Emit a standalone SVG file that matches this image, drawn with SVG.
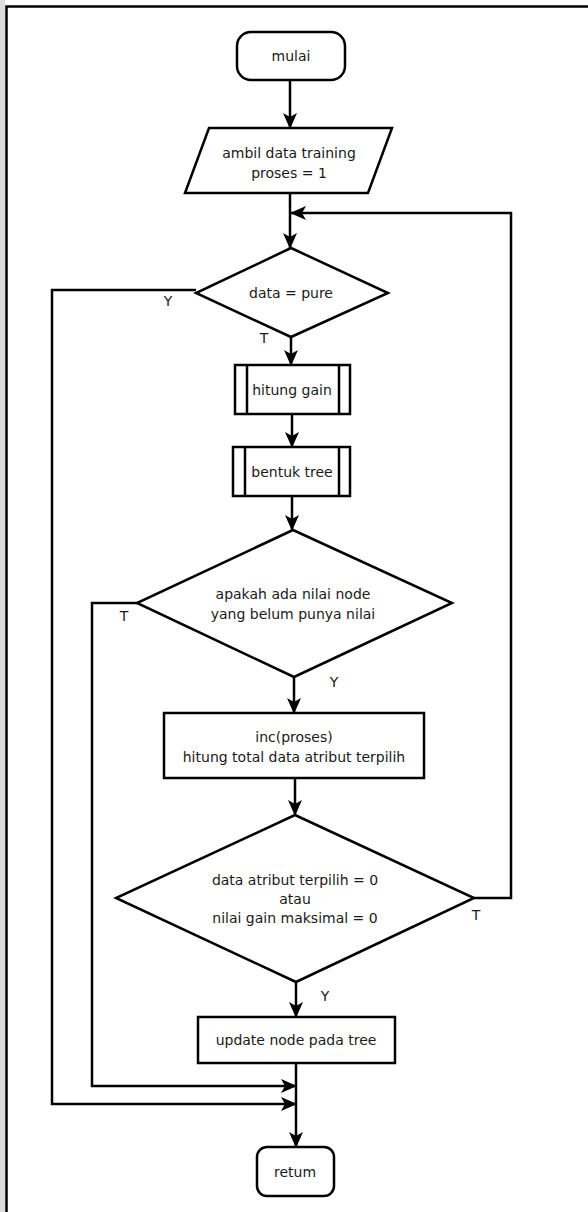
<svg xmlns="http://www.w3.org/2000/svg" width="588" height="1212" viewBox="0 0 588 1212">
  <style>
    .shape { fill: #ffffff; stroke: #000000; stroke-width: 2.5; }
    .inner { fill: none; stroke: #000000; stroke-width: 2.5; }
    .edge { fill: none; stroke: #000000; stroke-width: 2.5; }
    .lbl { font-family: "DejaVu Sans", Verdana, sans-serif; font-size: 14px; fill: #1a1a1a; text-anchor: middle; dominant-baseline: central; }
    .mark { font-family: "DejaVu Sans", Verdana, sans-serif; font-size: 14px; fill: #1a1a1a; text-anchor: middle; dominant-baseline: central; }
  </style>
  <defs>
    <marker id="arrow" markerUnits="userSpaceOnUse" markerWidth="16" markerHeight="16" viewBox="0 0 16 14" refX="15" refY="7" orient="auto">
      <path d="M0,0 L16,7 L0,14 L4,7 z" fill="#000000"/>
    </marker>
  </defs>

  <!-- page background and frame -->
  <rect x="0" y="0" width="588" height="1212" fill="#ffffff"/>
  <rect x="0" y="0" width="5" height="1212" fill="#dedede"/>
  <path d="M6.5,1212 V6.5 H588" fill="none" stroke="#000000" stroke-width="2.5"/>

  <!-- connectors -->
  <g id="connectors">
    <path class="edge" d="M290,80 V128" marker-end="url(#arrow)"/>
    <path class="edge" d="M290,193 V248" marker-end="url(#arrow)"/>
    <path class="edge" d="M474,898 H511 V213 H291" marker-end="url(#arrow)"/>
    <path class="edge" d="M291,337 V365" marker-end="url(#arrow)"/>
    <path class="edge" d="M292,414 V447" marker-end="url(#arrow)"/>
    <path class="edge" d="M292,496 V530" marker-end="url(#arrow)"/>
    <path class="edge" d="M294,677 V713" marker-end="url(#arrow)"/>
    <path class="edge" d="M295,778 V815" marker-end="url(#arrow)"/>
    <path class="edge" d="M296,982 V1017" marker-end="url(#arrow)"/>
    <path class="edge" d="M296,1063 V1147" marker-end="url(#arrow)"/>
    <path class="edge" d="M196,290 H52 V1104 H296" marker-end="url(#arrow)"/>
    <path class="edge" d="M137,603 H92 V1086 H296" marker-end="url(#arrow)"/>
    <text class="mark" x="168" y="301">Y</text>
    <text class="mark" x="264" y="338">T</text>
    <text class="mark" x="124" y="616">T</text>
    <text class="mark" x="334" y="682">Y</text>
    <text class="mark" x="476" y="915">T</text>
    <text class="mark" x="325" y="996">Y</text>
  </g>

  <g id="start">
    <rect class="shape" x="237" y="32" width="108" height="48" rx="14" ry="14"/>
    <text class="lbl" x="291" y="56">mulai</text>
  </g>

  <g id="input-data">
    <polygon class="shape" points="209,128 392,128 368,193 185,193"/>
    <text class="lbl" x="289" y="153">ambil data training</text>
    <text class="lbl" x="289" y="173">proses = 1</text>
  </g>

  <g id="check-pure">
    <polygon class="shape" points="291,248 388,293 291,337 196,293"/>
    <text class="lbl" x="291" y="293">data = pure</text>
  </g>

  <g id="hitung-gain">
    <rect class="shape" x="235" y="365" width="115" height="49"/>
    <path class="inner" d="M247,365 V414 M339,365 V414"/>
    <text class="lbl" x="292" y="390">hitung gain</text>
  </g>

  <g id="bentuk-tree">
    <rect class="shape" x="233" y="447" width="117" height="49"/>
    <path class="inner" d="M245,447 V496 M339,447 V496"/>
    <text class="lbl" x="292" y="472">bentuk tree</text>
  </g>

  <g id="check-node">
    <polygon class="shape" points="293,530 452,603 294,677 137,603"/>
    <text class="lbl" x="293" y="594">apakah ada nilai node</text>
    <text class="lbl" x="293" y="614">yang belum punya nilai</text>
  </g>

  <g id="inc-proses">
    <rect class="shape" x="164" y="713" width="260" height="65"/>
    <text class="lbl" x="294" y="737">inc(proses)</text>
    <text class="lbl" x="294" y="757">hitung total data atribut terpilih</text>
  </g>

  <g id="check-atribut">
    <polygon class="shape" points="295,815 474,898 296,982 116,898"/>
    <text class="lbl" x="295" y="880">data atribut terpilih = 0</text>
    <text class="lbl" x="295" y="899">atau</text>
    <text class="lbl" x="295" y="918">nilai gain maksimal = 0</text>
  </g>

  <g id="update-node">
    <rect class="shape" x="198" y="1017" width="197" height="46"/>
    <text class="lbl" x="296" y="1040">update node pada tree</text>
  </g>

  <g id="end">
    <rect class="shape" x="257" y="1147" width="77" height="49" rx="10" ry="10"/>
    <text class="lbl" x="295" y="1172">retum</text>
  </g>
</svg>
